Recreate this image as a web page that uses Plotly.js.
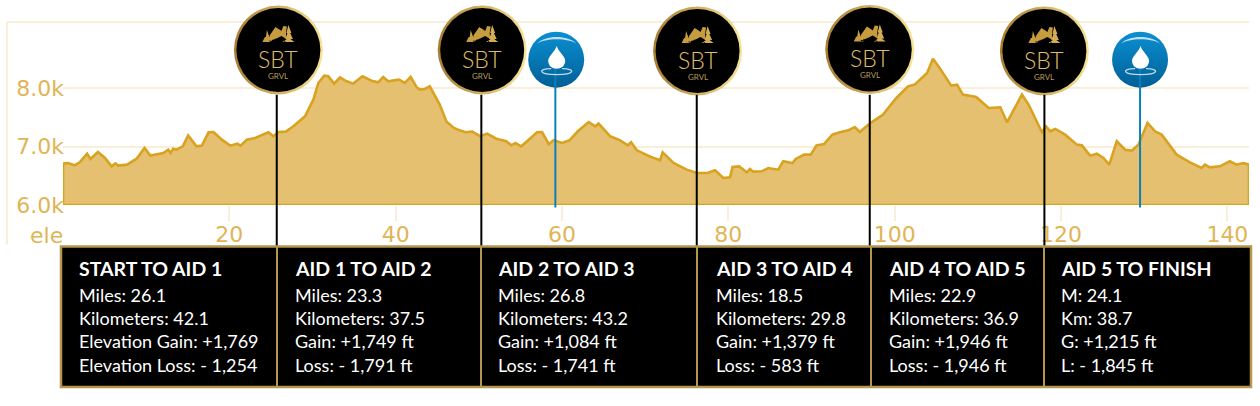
<!DOCTYPE html>
<html><head><meta charset="utf-8">
<script src="https://cdn.plot.ly/plotly-3.0.1.min.js"></script>
<style>html,body{margin:0;padding:0;background:#fff}#c{width:1260px;height:406px}</style>
</head><body><div id="c"></div>
<script>
// ---- data ----
const miles = [0,0.6,1.4,2.0,2.9,3.3,4.2,5.05,5.85,6.3,6.65,7.7,8.85,9.8,10.5,12.05,12.65,12.95,13.25,13.65,14.4,15.05,16.05,16.7,17.5,18.1,19.1,20.1,20.95,21.35,22.1,23.1,24.7,25.3,25.9,26.8,27.7,29.1,30.1,30.7,31.4,31.9,32.6,33.3,34.1,34.9,36.0,37.1,37.9,38.5,39.1,40.4,41.1,41.8,42.5,42.9,43.5,44.1,45.3,46.1,47.0,47.5,48.4,49.2,50.2,51.0,52.1,53.3,53.9,54.4,55.1,56.0,57.0,57.6,58.4,59.0,60.0,60.9,61.9,63.2,64.0,64.4,65.8,67.0,67.9,68.3,69.0,70.7,71.8,72.1,73.4,75.0,76.2,77.5,78.4,79.4,80.2,80.5,81.3,82.2,82.6,83.0,84.0,84.8,86.0,86.6,87.7,88.1,89.1,89.9,90.6,91.5,92.5,93.4,94.4,95.2,95.8,97.0,98.6,100.2,101.6,102.4,103.2,103.9,104.6,105.4,106.8,107.5,108.2,109.8,111.3,112.7,113.5,114.3,115.3,116.1,117.7,118.2,118.7,119.3,120.5,121.9,122.5,123.5,124.3,125.1,125.8,126.7,127.7,128.5,129.3,130.4,131.3,132.1,133.9,135.5,136.9,137.3,137.9,139.1,140.3,141.1,141.9,142.6];
const elevation = [6707,6718,6678,6730,6878,6787,6906,6804,6661,6712,6673,6690,6792,6975,6844,6889,6946,6889,6963,6946,7003,7191,7003,7015,7243,7248,7117,7015,7049,7015,7117,7146,7243,7174,7248,7254,7345,7516,7801,8086,8212,8200,8075,8183,8115,8075,8200,8126,8098,8189,8115,8143,8086,8189,8018,7972,7984,8029,7716,7430,7317,7288,7243,7254,7174,7220,7134,7089,7020,7060,7003,7117,7243,7248,7043,7106,7060,7106,7260,7419,7345,7391,7174,7106,7020,7072,6935,6821,6764,6900,6718,6604,6547,6547,6593,6462,6473,6650,6661,6559,6616,6570,6576,6633,6604,6747,6718,6787,6861,6861,7020,7043,7203,7243,7277,7334,7248,7391,7545,7830,8029,8058,8172,8257,8502,8343,8041,8058,7887,7847,7659,7670,7414,7630,7887,7716,7243,7345,7260,7300,7203,7032,7020,6844,6878,6804,6690,7089,6946,6929,7032,7402,7260,7203,6861,6730,6633,6690,6644,6661,6747,6690,6718,6690];
const baseElevation = 6000;
const aidMiles = [25.7, 50.3, 76.2, 97.0, 118.0];
const aidIconMiles = [25.9, 50.4, 76.3, 97.0, 118.0];
const aidIconElevation = [8650, 8650, 8635, 8660, 8635];
const waterMiles = [59.2, 129.5];
const waterIconMiles = [59.3, 129.5];
const waterIconElevation = [8485, 8485];
const xTicks = [20,40,60,80,100,120,140];
const yTicks = [6000,7000,8000];
const yTickLabels = ['6.0k','7.0k','8.0k'];
const headers = ['START TO AID 1','AID 1 TO AID 2','AID 2 TO AID 3','AID 3 TO AID 4','AID 4 TO AID 5','AID 5 TO FINISH'];
const line1 = ['Miles: 26.1','Miles: 23.3','Miles: 26.8','Miles: 18.5','Miles: 22.9','M: 24.1'];
const line2 = ['Kilometers: 42.1','Kilometers: 37.5','Kilometers: 43.2','Kilometers: 29.8','Kilometers: 36.9','Km: 38.7'];
const line3 = ['Elevation Gain: +1,769','Gain: +1,749 ft','Gain: +1,084 ft','Gain: +1,379 ft','Gain: +1,946 ft','G: +1,215 ft'];
const line4 = ['Elevation Loss: - 1,254','Loss: - 1,791 ft','Loss: - 1,741 ft','Loss: - 583 ft','Loss: - 1,946 ft','L: - 1,845 ft'];

// ---- layout helpers (pixels to paper fractions) ----
const L=63,R=1249,T=22,B=205.5;
const fx=p=>(p-L)/(R-L), fy=p=>(B-p)/(B-T);
const gold='#dfb556', grid='#f8eed9', border='#b4964e';
const boxEdges=[61,277,481,697,871,1044,1251], textLeft=[79,295,498,716,889,1061];
const tableTop=247, tableBottom=388;

const shapes=[
 {type:'line',layer:'below',xref:'paper',yref:'paper',x0:fx(7),x1:fx(1249),y0:1,y1:1,line:{color:grid,width:2}},
 {type:'line',layer:'below',xref:'paper',yref:'paper',x0:fx(7),x1:fx(7),y0:1,y1:fy(245),line:{color:grid,width:2}}
];
aidMiles.forEach(m=>shapes.push({type:'line',layer:'above',xref:'x',yref:'paper',x0:m,x1:m,y0:fy(95),y1:fy(248),line:{color:'#000',width:2}}));
waterMiles.forEach(m=>shapes.push({type:'line',layer:'above',xref:'x',yref:'paper',x0:m,x1:m,y0:fy(68),y1:fy(208),line:{color:'#0b7fbb',width:2}}));
shapes.push({type:'rect',layer:'above',xref:'paper',yref:'paper',x0:fx(boxEdges[0]),x1:fx(boxEdges[6]),y0:fy(tableTop),y1:fy(tableBottom),fillcolor:'#000',line:{color:border,width:2.5}});
boxEdges.slice(1,6).forEach(e=>shapes.push({type:'line',layer:'above',xref:'paper',yref:'paper',x0:fx(e),x1:fx(e),y0:fy(tableTop),y1:fy(tableBottom),line:{color:border,width:2}}));

function icon(xm,ye,path,fill,line){
  return {type:'path',layer:'above',xref:'x',yref:'y',xsizemode:'pixel',ysizemode:'pixel',xanchor:xm,yanchor:ye,path,
    fillcolor:fill||'rgba(0,0,0,0)',line:line||{width:0}};
}
const logoMountain='M-10 9 L-8.5 15 L-5 20 L-3 23 L1 20.5 L3 19 L5 24 L8.5 23.5 L7.5 17 L8 11 L3 14 L-3 11 Z';
const logoTreeR='M10 25 L13 17 L11.8 17 L14.5 11 L12 11 L16 8 L4 8 L8.5 11 L7 11 L9 17 L8 17 Z';
const logoTreeL='M-11.5 20 L-9 13 L-8 13 L-6 8 L-16 8 L-13.5 13 L-12.5 13 Z';
const logoFurrow='M-9 9 L1 7 M-3 11 L5 6 M2 13 L9 6';
aidIconMiles.forEach((m,i)=>{
  const y=aidIconElevation[i];
  shapes.push(icon(m,y,logoMountain,'#c69c3e'));
  shapes.push(icon(m,y,logoTreeR,'#d3ac55'));
  shapes.push(icon(m,y,logoTreeL,'#c69c3e'));
  shapes.push(icon(m,y,logoFurrow,null,{color:'#000',width:1}));
});
waterIconMiles.forEach((m,i)=>{
  const y=waterIconElevation[i];
  shapes.push(icon(m,y,'M0.5 14 C2 8 9 4 9 -1 C9 -6 5 -9 0.5 -9 C-4 -9 -8 -6 -8 -1 C-8 4 -1 8 0.5 14 Z','#fff'));
  shapes.push(icon(m,y,'M-5 -9 C-19 -9 -18 -15 0.5 -15 C19 -15 20 -9 6 -9',null,{color:'rgba(255,255,255,0.75)',width:1.2}));
  shapes.push(icon(m,y,'M-19 16 C-12 25 13 25 20 16 C13 22 -12 22 -19 16 Z','rgba(255,255,255,0.75)'));
});

const annotations=[{xref:'paper',yref:'paper',x:fx(65),y:fy(236),xanchor:'right',yanchor:'middle',text:'ele',showarrow:false,font:{family:'DejaVu Sans',size:22,color:gold}}];
const body=[line1,line2,line3,line4], bodyY=[295.5,318.5,341.5,365.5];
headers.forEach((h,i)=>{
  annotations.push({xref:'paper',yref:'paper',x:fx(textLeft[i]),y:fy(269),xanchor:'left',yanchor:'middle',xshift:-2,text:'<b>'+h+'</b>',showarrow:false,font:{family:'Lato',size:19.5,color:'#fff'}});
  body.forEach((ln,j)=>annotations.push({xref:'paper',yref:'paper',x:fx(textLeft[i]),y:fy(bodyY[j]),xanchor:'left',yanchor:'middle',xshift:-2,text:ln[i],showarrow:false,font:{family:'Lato',size:18,color:'#fff'}}));
});
aidIconMiles.forEach((m,i)=>{
  annotations.push({xref:'x',yref:'y',x:m,y:aidIconElevation[i],yshift:-9,text:'SBT',showarrow:false,yanchor:'middle',font:{family:'Lato',weight:300,size:23,color:'#e0bd68'}});
  annotations.push({xref:'x',yref:'y',x:m,y:aidIconElevation[i],yshift:-26,text:'GRVL',showarrow:false,yanchor:'middle',font:{family:'Lato',size:8,color:'#b89b58'}});
});

const traces=[
 {x:[0].concat(miles,[miles[miles.length-1],0]),y:[baseElevation].concat(elevation,[baseElevation,baseElevation]),mode:'lines',fill:'toself',fillcolor:'#e4c070',line:{color:'#d9a21f',width:2.6},cliponaxis:false,hoverinfo:'skip',showlegend:false},
 {x:aidIconMiles,y:aidIconElevation,mode:'markers',cliponaxis:false,marker:{size:89,color:'#a87d30',gradient:{type:'horizontal',color:'#f8e596'},line:{width:0}},hoverinfo:'skip',showlegend:false},
 {x:aidIconMiles,y:aidIconElevation,mode:'markers',cliponaxis:false,marker:{size:84,color:'#000',line:{width:0}},hoverinfo:'skip',showlegend:false},
 {x:waterIconMiles,y:waterIconElevation,mode:'markers',cliponaxis:false,marker:{size:56,color:'#0b8fd2',gradient:{type:'vertical',color:'#005f96'},line:{width:0}},hoverinfo:'skip',showlegend:false}
];
const layout={
 width:1260,height:406,paper_bgcolor:'#fff',plot_bgcolor:'#fff',showlegend:false,
 margin:{l:L,r:1260-R,t:T,b:406-B,pad:0},
 xaxis:{range:[0,142.6],tickmode:'array',tickvals:xTicks,ticks:'outside',ticklen:15,tickwidth:2,tickcolor:grid,showgrid:false,zeroline:false,showline:false,ticklabelstandoff:-5,
   tickfont:{family:'DejaVu Sans',size:22,color:gold}},
 yaxis:{range:[6000,6000+(B-T)/58.65*1000],tickmode:'array',tickvals:yTicks,ticktext:yTickLabels,ticks:'',showgrid:true,gridcolor:grid,gridwidth:2,zeroline:false,showline:false,ticklabelstandoff:-2,
   tickfont:{family:'DejaVu Sans',size:22,color:gold}},
 shapes,annotations
};
Plotly.newPlot('c',traces,layout,{displayModeBar:false,staticPlot:true});
</script></body></html>
